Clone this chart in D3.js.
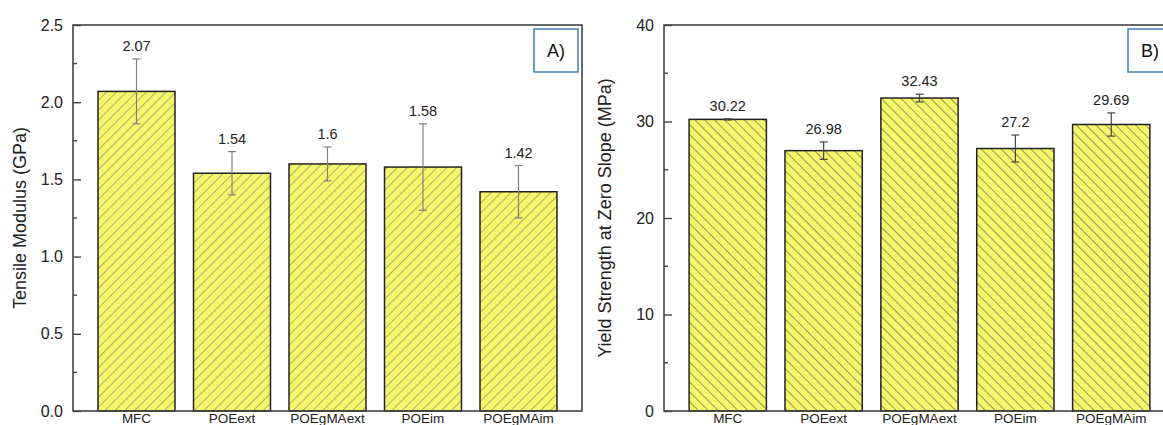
<!DOCTYPE html>
<html>
<head>
<meta charset="utf-8">
<script src="https://cdn.jsdelivr.net/npm/d3@7"></script>
<style>
	body { margin: 0; background: #fff; }
	svg { display: block; font-family: "Liberation Sans", Arial, sans-serif; }
</style>
</head>
<body>
<div class="chart"></div>
<script>
	'use strict';

	// shared categories
	var categories = ['MFC', 'POEext', 'POEgMAext', 'POEim', 'POEgMAim'];

	// panel A: tensile modulus (GPa)
	var modulusValues = [2.07, 1.54, 1.6, 1.58, 1.42];
	var modulusErrors = [0.21, 0.14, 0.11, 0.28, 0.17];
	var modulusLabels = ['2.07', '1.54', '1.6', '1.58', '1.42'];
	var modulusTicks = [0.0, 0.5, 1.0, 1.5, 2.0, 2.5];

	// panel B: yield strength at zero slope (MPa)
	var yieldValues = [30.22, 26.98, 32.43, 27.2, 29.69];
	var yieldErrors = [0.06, 0.9, 0.4, 1.4, 1.2];
	var yieldLabels = ['30.22', '26.98', '32.43', '27.2', '29.69'];
	var yieldTicks = [0, 10, 20, 30, 40];

	var W = 1163, H = 425;
	var svg = d3.select('.chart').append('svg').attr('width', W).attr('height', H);
	var defs = svg.append('defs');

	function hatch(id, dir, stroke) {
		var p = defs.append('pattern')
			.attr('id', id)
			.attr('patternUnits', 'userSpaceOnUse')
			.attr('width', 7).attr('height', 7)
			.attr('patternTransform', 'rotate(' + (dir > 0 ? 45 : -45) + ')');
		p.append('rect').attr('width', 7).attr('height', 7).attr('fill', '#f7f76c');
		p.append('line').attr('x1', 0).attr('y1', 0).attr('x2', 0).attr('y2', 7)
			.attr('stroke', stroke).attr('stroke-width', 1);
	}
	hatch('hatchA', 1, '#6a6a55');
	hatch('hatchB', -1, '#3a3a30');

	/**
	 * Draws one bar panel with error bars and value labels.
	 */
	function drawPanel(o) {
		var g = svg.append('g');
		var x = d3.scalePoint().domain(categories).range([o.left, o.right]).padding(0.665);
		var y = d3.scaleLinear().domain(o.domain).range([o.bottom, o.top]);
		var bw = x.step() * 0.806;

		g.selectAll('rect.bar').data(o.values).enter().append('rect')
			.attr('class', 'bar')
			.attr('x', function(d, i) { return x(categories[i]) - bw / 2; })
			.attr('y', function(d) { return y(d); })
			.attr('width', bw)
			.attr('height', function(d) { return y(0) - y(d); })
			.attr('fill', 'url(#' + o.pattern + ')')
			.attr('stroke', '#222').attr('stroke-width', 1.5);

		// error bars
		var eb = g.selectAll('g.err').data(o.values).enter().append('g')
			.attr('stroke', o.errColor).attr('stroke-width', 1.2);
		eb.append('line')
			.attr('x1', function(d, i) { return x(categories[i]); })
			.attr('x2', function(d, i) { return x(categories[i]); })
			.attr('y1', function(d, i) { return y(d + o.errors[i]); })
			.attr('y2', function(d, i) { return y(d - o.errors[i]); });
		[1, -1].forEach(function(s) {
			eb.append('line')
				.attr('x1', function(d, i) { return x(categories[i]) - 4; })
				.attr('x2', function(d, i) { return x(categories[i]) + 4; })
				.attr('y1', function(d, i) { return y(d + s * o.errors[i]); })
				.attr('y2', function(d, i) { return y(d + s * o.errors[i]); });
		});

		g.selectAll('text.val').data(o.values).enter().append('text')
			.attr('x', function(d, i) { return x(categories[i]); })
			.attr('y', function(d, i) { return y(d + o.errors[i]) - 8; })
			.attr('text-anchor', 'middle')
			.attr('font-size', 14.5).attr('fill', '#222')
			.text(function(d, i) { return o.labels[i]; });

		// frame
		g.append('rect')
			.attr('x', o.left).attr('y', o.top)
			.attr('width', o.right - o.left).attr('height', o.bottom - o.top)
			.attr('fill', 'none').attr('stroke', '#444').attr('stroke-width', 1.6);

		// y axis: inward ticks, minor ticks halfway
		var yAxis = d3.axisLeft(y).tickValues(o.ticks).tickFormat(o.fmt).tickSizeInner(-8).tickSizeOuter(0).tickPadding(10);
		var ax = g.append('g').attr('transform', 'translate(' + o.left + ',0)').call(yAxis);
		ax.select('.domain').remove();
		ax.selectAll('line').attr('stroke', '#444').attr('stroke-width', 1.4);
		ax.selectAll('text').attr('font-size', 16).attr('fill', '#222').attr('font-family', '"Liberation Sans", Arial, sans-serif');
		var minors = d3.range(o.ticks.length - 1).map(function(i) { return (o.ticks[i] + o.ticks[i + 1]) / 2; });
		g.selectAll('line.minor').data(minors).enter().append('line')
			.attr('x1', o.left).attr('x2', o.left + 4)
			.attr('y1', function(d) { return y(d); }).attr('y2', function(d) { return y(d); })
			.attr('stroke', '#444').attr('stroke-width', 1.4);

		// category labels
		g.selectAll('text.cat').data(categories).enter().append('text')
			.attr('x', function(d) { return x(d); })
			.attr('y', o.bottom + 12)
			.attr('text-anchor', 'middle')
			.attr('font-size', 13.5).attr('fill', '#222')
			.text(function(d) { return d; });

		g.append('text')
			.attr('transform', 'translate(' + o.titleX + ',' + ((o.top + o.bottom) / 2) + ') rotate(-90)')
			.attr('text-anchor', 'middle')
			.attr('font-size', 18).attr('fill', '#222')
			.text(o.title);

		// panel tag box
		g.append('rect')
			.attr('x', o.tagX).attr('y', 29).attr('width', 44).attr('height', 43)
			.attr('fill', '#fff').attr('stroke', '#3d7fb8').attr('stroke-width', 1.5);
		g.append('text')
			.attr('x', o.tagX + 22).attr('y', 57)
			.attr('text-anchor', 'middle')
			.attr('font-size', 18).attr('fill', '#111')
			.text(o.tag);
	}

	drawPanel({
		left: 73, right: 582, top: 25, bottom: 411,
		domain: [0, 2.5], ticks: modulusTicks, fmt: d3.format('.1f'),
		values: modulusValues, errors: modulusErrors, labels: modulusLabels,
		pattern: 'hatchA', errColor: '#808080',
		title: 'Tensile Modulus (GPa)', titleX: 26,
		tag: 'A)', tagX: 534
	});

	drawPanel({
		left: 664, right: 1175, top: 25, bottom: 411,
		domain: [0, 40], ticks: yieldTicks, fmt: d3.format('d'),
		values: yieldValues, errors: yieldErrors, labels: yieldLabels,
		pattern: 'hatchB', errColor: '#444',
		title: 'Yield Strength at Zero Slope (MPa)', titleX: 611,
		tag: 'B)', tagX: 1128
	});
</script>
</body>
</html>
